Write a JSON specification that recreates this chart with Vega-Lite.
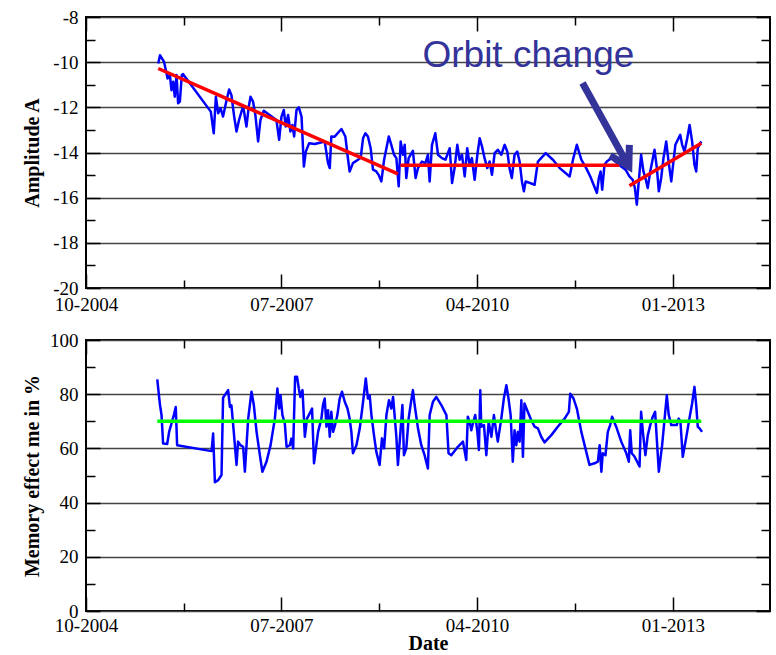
{
  "$schema": "https://vega.github.io/schema/vega-lite/v6.json",
  "background": "white",
  "padding": {"left": 21, "top": 7, "right": 4, "bottom": 0},
  "spacing": 9,
  "config": {
    "view": {"stroke": "black", "strokeWidth": 2},
    "font": "Liberation Serif",
    "axis": {
      "labelFont": "Liberation Serif", "labelFontSize": 19, "labelColor": "black",
      "titleFont": "Liberation Serif", "titleFontSize": 20, "titleFontWeight": "bold", "titleColor": "black",
      "tickColor": "black", "tickWidth": 1.5, "domain": false,
      "gridColor": "#444444", "gridWidth": 1.5
    }
  },
  "datasets": {
    "amp": [
      {"date": "2005-10-07", "amplitude": -10.06}, {"date": "2005-10-16", "amplitude": -9.69}, {"date": "2005-11-06", "amplitude": -9.99},
      {"date": "2005-11-24", "amplitude": -10.72}, {"date": "2005-12-06", "amplitude": -10.57}, {"date": "2005-12-14", "amplitude": -11.24},
      {"date": "2005-12-23", "amplitude": -10.87}, {"date": "2005-12-31", "amplitude": -11.53}, {"date": "2006-01-09", "amplitude": -10.57},
      {"date": "2006-01-17", "amplitude": -11.82}, {"date": "2006-01-26", "amplitude": -11.75}, {"date": "2006-02-05", "amplitude": -10.57},
      {"date": "2006-02-12", "amplitude": -10.53}, {"date": "2006-07-04", "amplitude": -12.19}, {"date": "2006-07-19", "amplitude": -13.15},
      {"date": "2006-07-30", "amplitude": -11.53}, {"date": "2006-08-11", "amplitude": -12.26}, {"date": "2006-08-23", "amplitude": -12.04},
      {"date": "2006-09-05", "amplitude": -12.41}, {"date": "2006-09-23", "amplitude": -11.68}, {"date": "2006-10-06", "amplitude": -11.21},
      {"date": "2006-10-18", "amplitude": -11.46}, {"date": "2006-11-01", "amplitude": -12.41}, {"date": "2006-11-13", "amplitude": -13.07},
      {"date": "2006-11-26", "amplitude": -12.56}, {"date": "2006-12-17", "amplitude": -11.94}, {"date": "2007-01-03", "amplitude": -12.85},
      {"date": "2007-01-15", "amplitude": -11.97}, {"date": "2007-01-24", "amplitude": -11.53}, {"date": "2007-02-06", "amplitude": -11.75},
      {"date": "2007-02-18", "amplitude": -12.34}, {"date": "2007-03-04", "amplitude": -13.51}, {"date": "2007-03-16", "amplitude": -12.56},
      {"date": "2007-04-02", "amplitude": -12.15}, {"date": "2007-06-06", "amplitude": -12.56}, {"date": "2007-06-20", "amplitude": -13.44},
      {"date": "2007-07-02", "amplitude": -12.41}, {"date": "2007-07-14", "amplitude": -12.12}, {"date": "2007-07-24", "amplitude": -12.85},
      {"date": "2007-08-05", "amplitude": -12.34}, {"date": "2007-08-17", "amplitude": -13.07}, {"date": "2007-08-27", "amplitude": -12.78},
      {"date": "2007-09-05", "amplitude": -13.29}, {"date": "2007-09-17", "amplitude": -12.12}, {"date": "2007-09-29", "amplitude": -12.0},
      {"date": "2007-10-13", "amplitude": -12.41}, {"date": "2007-10-25", "amplitude": -14.62}, {"date": "2007-11-04", "amplitude": -13.96},
      {"date": "2007-11-21", "amplitude": -13.59}, {"date": "2007-12-20", "amplitude": -13.62}, {"date": "2008-02-09", "amplitude": -13.51},
      {"date": "2008-02-26", "amplitude": -14.47}, {"date": "2008-03-06", "amplitude": -14.69}, {"date": "2008-03-14", "amplitude": -13.29},
      {"date": "2008-03-31", "amplitude": -13.3}, {"date": "2008-05-05", "amplitude": -12.96}, {"date": "2008-05-25", "amplitude": -13.29},
      {"date": "2008-06-05", "amplitude": -14.1}, {"date": "2008-06-16", "amplitude": -14.84}, {"date": "2008-07-03", "amplitude": -14.47},
      {"date": "2008-07-29", "amplitude": -14.32}, {"date": "2008-08-12", "amplitude": -14.22}, {"date": "2008-08-24", "amplitude": -13.37},
      {"date": "2008-09-05", "amplitude": -13.15}, {"date": "2008-09-18", "amplitude": -13.29}, {"date": "2008-10-02", "amplitude": -13.81},
      {"date": "2008-10-14", "amplitude": -14.76}, {"date": "2008-10-31", "amplitude": -14.84}, {"date": "2008-11-12", "amplitude": -14.99},
      {"date": "2008-11-26", "amplitude": -15.28}, {"date": "2008-12-10", "amplitude": -14.32}, {"date": "2008-12-22", "amplitude": -13.81},
      {"date": "2009-01-03", "amplitude": -13.29}, {"date": "2009-01-16", "amplitude": -13.66}, {"date": "2009-01-30", "amplitude": -14.1},
      {"date": "2009-02-11", "amplitude": -14.25}, {"date": "2009-02-23", "amplitude": -15.5}, {"date": "2009-03-05", "amplitude": -13.51},
      {"date": "2009-03-17", "amplitude": -14.1}, {"date": "2009-03-26", "amplitude": -13.66}, {"date": "2009-04-03", "amplitude": -15.13},
      {"date": "2009-04-15", "amplitude": -14.25}, {"date": "2009-05-07", "amplitude": -13.93}, {"date": "2009-05-21", "amplitude": -15.13},
      {"date": "2009-06-02", "amplitude": -14.69}, {"date": "2009-06-22", "amplitude": -14.4}, {"date": "2009-07-10", "amplitude": -14.47},
      {"date": "2009-07-23", "amplitude": -14.1}, {"date": "2009-08-01", "amplitude": -15.28}, {"date": "2009-08-13", "amplitude": -13.66},
      {"date": "2009-08-30", "amplitude": -13.15}, {"date": "2009-09-13", "amplitude": -14.1}, {"date": "2009-10-03", "amplitude": -14.25},
      {"date": "2009-10-21", "amplitude": -14.32}, {"date": "2009-11-12", "amplitude": -13.81}, {"date": "2009-11-24", "amplitude": -15.35},
      {"date": "2009-12-07", "amplitude": -14.69}, {"date": "2009-12-21", "amplitude": -13.66}, {"date": "2010-01-02", "amplitude": -14.32},
      {"date": "2010-01-14", "amplitude": -14.1}, {"date": "2010-01-28", "amplitude": -15.06}, {"date": "2010-02-10", "amplitude": -13.81},
      {"date": "2010-02-22", "amplitude": -14.54}, {"date": "2010-03-06", "amplitude": -14.25}, {"date": "2010-03-20", "amplitude": -15.21},
      {"date": "2010-04-03", "amplitude": -14.1}, {"date": "2010-04-15", "amplitude": -13.37}, {"date": "2010-04-27", "amplitude": -13.74},
      {"date": "2010-05-10", "amplitude": -14.25}, {"date": "2010-05-24", "amplitude": -14.69}, {"date": "2010-06-05", "amplitude": -14.4},
      {"date": "2010-06-17", "amplitude": -14.99}, {"date": "2010-07-01", "amplitude": -14.03}, {"date": "2010-07-17", "amplitude": -13.88},
      {"date": "2010-08-04", "amplitude": -14.1}, {"date": "2010-08-21", "amplitude": -13.66}, {"date": "2010-09-04", "amplitude": -13.96},
      {"date": "2010-09-15", "amplitude": -14.69}, {"date": "2010-09-27", "amplitude": -15.13}, {"date": "2010-10-11", "amplitude": -14.1},
      {"date": "2010-10-25", "amplitude": -13.96}, {"date": "2010-11-06", "amplitude": -14.4}, {"date": "2010-11-18", "amplitude": -15.28},
      {"date": "2010-11-28", "amplitude": -15.72}, {"date": "2010-12-07", "amplitude": -15.28}, {"date": "2011-01-22", "amplitude": -15.43},
      {"date": "2011-02-08", "amplitude": -14.4}, {"date": "2011-03-20", "amplitude": -14.03}, {"date": "2011-04-26", "amplitude": -14.32},
      {"date": "2011-05-31", "amplitude": -14.69}, {"date": "2011-07-21", "amplitude": -15.06}, {"date": "2011-08-07", "amplitude": -14.32},
      {"date": "2011-08-27", "amplitude": -13.66}, {"date": "2011-09-19", "amplitude": -14.32}, {"date": "2011-10-14", "amplitude": -14.69},
      {"date": "2011-11-04", "amplitude": -15.06}, {"date": "2011-11-21", "amplitude": -15.43}, {"date": "2011-12-08", "amplitude": -15.79},
      {"date": "2011-12-18", "amplitude": -15.13}, {"date": "2011-12-27", "amplitude": -14.84}, {"date": "2012-01-04", "amplitude": -15.65},
      {"date": "2012-01-16", "amplitude": -14.54}, {"date": "2012-01-28", "amplitude": -14.4}, {"date": "2012-02-20", "amplitude": -14.25},
      {"date": "2012-03-16", "amplitude": -14.43}, {"date": "2012-04-11", "amplitude": -14.62}, {"date": "2012-05-03", "amplitude": -14.76},
      {"date": "2012-05-23", "amplitude": -15.06}, {"date": "2012-06-09", "amplitude": -15.21}, {"date": "2012-06-20", "amplitude": -15.57},
      {"date": "2012-06-30", "amplitude": -16.31}, {"date": "2012-07-10", "amplitude": -15.28}, {"date": "2012-07-22", "amplitude": -14.1},
      {"date": "2012-08-03", "amplitude": -14.84}, {"date": "2012-08-13", "amplitude": -15.13}, {"date": "2012-08-25", "amplitude": -15.57},
      {"date": "2012-09-07", "amplitude": -14.84}, {"date": "2012-09-29", "amplitude": -13.88}, {"date": "2012-10-11", "amplitude": -14.69},
      {"date": "2012-10-21", "amplitude": -15.72}, {"date": "2012-11-02", "amplitude": -15.13}, {"date": "2012-11-14", "amplitude": -14.25},
      {"date": "2012-11-28", "amplitude": -13.51}, {"date": "2012-12-10", "amplitude": -14.4}, {"date": "2012-12-24", "amplitude": -15.28},
      {"date": "2013-01-04", "amplitude": -14.4}, {"date": "2013-01-14", "amplitude": -13.66}, {"date": "2013-02-08", "amplitude": -13.22},
      {"date": "2013-02-18", "amplitude": -13.66}, {"date": "2013-03-02", "amplitude": -13.96}, {"date": "2013-03-16", "amplitude": -13.37},
      {"date": "2013-03-28", "amplitude": -12.78}, {"date": "2013-04-10", "amplitude": -13.51}, {"date": "2013-04-22", "amplitude": -14.54},
      {"date": "2013-05-01", "amplitude": -14.84}, {"date": "2013-05-09", "amplitude": -13.81}, {"date": "2013-05-27", "amplitude": -13.51}
    ],
    "ampfit": [
      {"seg": "a", "date": "2005-10-07", "amplitude": -10.28}, {"seg": "a", "date": "2009-02-19", "amplitude": -14.95},
      {"seg": "b", "date": "2009-03-04", "amplitude": -14.57}, {"seg": "b", "date": "2012-04-02", "amplitude": -14.57},
      {"seg": "c", "date": "2012-05-23", "amplitude": -15.47}, {"seg": "c", "date": "2013-05-27", "amplitude": -13.59}
    ],
    "arrow": [{"start": "2011-09-25", "from": -10.92, "end": "2012-05-20", "to": -14.63}],
    "head": [{"date": "2012-05-20", "amplitude": -14.63}],
    "note": [{"date": "2009-06-25", "amplitude": -10.21, "label": "Orbit change"}],
    "mem": [
      {"date": "2005-10-02", "memory": 85.5}, {"date": "2005-10-16", "memory": 76.0}, {"date": "2005-10-24", "memory": 72.3},
      {"date": "2005-11-01", "memory": 61.8}, {"date": "2005-11-22", "memory": 61.6}, {"date": "2005-12-02", "memory": 66.1},
      {"date": "2005-12-14", "memory": 69.2}, {"date": "2005-12-26", "memory": 72.3}, {"date": "2006-01-05", "memory": 75.3},
      {"date": "2006-01-12", "memory": 61.2}, {"date": "2006-07-08", "memory": 59.0}, {"date": "2006-07-16", "memory": 65.5},
      {"date": "2006-07-25", "memory": 47.5}, {"date": "2006-08-11", "memory": 48.3}, {"date": "2006-08-28", "memory": 50.2},
      {"date": "2006-09-05", "memory": 78.7}, {"date": "2006-09-19", "memory": 80.2}, {"date": "2006-10-01", "memory": 81.5},
      {"date": "2006-10-10", "memory": 75.3}, {"date": "2006-10-18", "memory": 75.9}, {"date": "2006-10-30", "memory": 66.1},
      {"date": "2006-11-13", "memory": 53.9}, {"date": "2006-11-21", "memory": 62.5}, {"date": "2006-12-03", "memory": 61.2},
      {"date": "2006-12-17", "memory": 60.6}, {"date": "2006-12-26", "memory": 51.4}, {"date": "2007-01-12", "memory": 71.0},
      {"date": "2007-01-29", "memory": 80.9}, {"date": "2007-02-10", "memory": 76.0}, {"date": "2007-02-24", "memory": 66.1},
      {"date": "2007-03-13", "memory": 57.5}, {"date": "2007-03-26", "memory": 51.4}, {"date": "2007-04-16", "memory": 55.1},
      {"date": "2007-05-07", "memory": 61.2}, {"date": "2007-05-29", "memory": 71.0}, {"date": "2007-06-11", "memory": 82.1},
      {"date": "2007-06-20", "memory": 74.7}, {"date": "2007-06-27", "memory": 79.6}, {"date": "2007-07-07", "memory": 72.3},
      {"date": "2007-07-19", "memory": 69.2}, {"date": "2007-07-28", "memory": 60.6}, {"date": "2007-08-14", "memory": 61.2},
      {"date": "2007-08-22", "memory": 63.6}, {"date": "2007-08-31", "memory": 60.0}, {"date": "2007-09-10", "memory": 86.4},
      {"date": "2007-09-20", "memory": 86.4}, {"date": "2007-09-29", "memory": 82.1}, {"date": "2007-10-07", "memory": 79.0},
      {"date": "2007-10-18", "memory": 81.5}, {"date": "2007-10-30", "memory": 64.3}, {"date": "2007-11-10", "memory": 71.0},
      {"date": "2007-11-24", "memory": 72.9}, {"date": "2007-12-06", "memory": 74.7}, {"date": "2007-12-16", "memory": 54.5},
      {"date": "2008-01-06", "memory": 66.1}, {"date": "2008-01-23", "memory": 71.0}, {"date": "2008-01-31", "memory": 76.0},
      {"date": "2008-02-09", "memory": 78.4}, {"date": "2008-02-18", "memory": 68.0}, {"date": "2008-02-26", "memory": 74.1},
      {"date": "2008-03-06", "memory": 64.3}, {"date": "2008-03-14", "memory": 73.5}, {"date": "2008-03-23", "memory": 66.1},
      {"date": "2008-03-31", "memory": 68.0}, {"date": "2008-04-14", "memory": 72.3}, {"date": "2008-04-26", "memory": 78.4},
      {"date": "2008-05-08", "memory": 80.9}, {"date": "2008-05-22", "memory": 77.2}, {"date": "2008-06-05", "memory": 74.7},
      {"date": "2008-06-16", "memory": 71.0}, {"date": "2008-06-25", "memory": 66.1}, {"date": "2008-07-03", "memory": 58.2},
      {"date": "2008-07-21", "memory": 61.2}, {"date": "2008-08-07", "memory": 67.4}, {"date": "2008-08-24", "memory": 77.2},
      {"date": "2008-09-07", "memory": 85.8}, {"date": "2008-09-18", "memory": 78.4}, {"date": "2008-09-27", "memory": 79.6},
      {"date": "2008-10-06", "memory": 72.3}, {"date": "2008-10-19", "memory": 64.9}, {"date": "2008-10-31", "memory": 58.8},
      {"date": "2008-11-17", "memory": 53.9}, {"date": "2008-11-29", "memory": 63.7}, {"date": "2008-12-10", "memory": 60.0},
      {"date": "2008-12-22", "memory": 72.3}, {"date": "2009-01-04", "memory": 77.8}, {"date": "2009-01-16", "memory": 74.7},
      {"date": "2009-01-25", "memory": 79.0}, {"date": "2009-02-02", "memory": 72.3}, {"date": "2009-02-11", "memory": 64.3},
      {"date": "2009-02-19", "memory": 53.9}, {"date": "2009-03-04", "memory": 66.1}, {"date": "2009-03-14", "memory": 76.0},
      {"date": "2009-03-22", "memory": 57.5}, {"date": "2009-04-03", "memory": 60.0}, {"date": "2009-04-15", "memory": 71.0},
      {"date": "2009-04-25", "memory": 76.0}, {"date": "2009-05-07", "memory": 81.5}, {"date": "2009-05-16", "memory": 76.0},
      {"date": "2009-06-02", "memory": 67.4}, {"date": "2009-06-19", "memory": 61.2}, {"date": "2009-07-06", "memory": 57.5},
      {"date": "2009-07-23", "memory": 52.6}, {"date": "2009-08-01", "memory": 72.3}, {"date": "2009-08-18", "memory": 77.2},
      {"date": "2009-09-04", "memory": 79.0}, {"date": "2009-09-30", "memory": 76.0}, {"date": "2009-10-26", "memory": 72.3},
      {"date": "2009-11-06", "memory": 58.2}, {"date": "2009-11-20", "memory": 57.5}, {"date": "2009-12-24", "memory": 60.6},
      {"date": "2010-01-19", "memory": 62.5}, {"date": "2010-02-05", "memory": 55.7}, {"date": "2010-02-13", "memory": 71.7},
      {"date": "2010-02-22", "memory": 69.8}, {"date": "2010-03-03", "memory": 66.7}, {"date": "2010-03-11", "memory": 69.2},
      {"date": "2010-03-23", "memory": 72.3}, {"date": "2010-04-03", "memory": 66.1}, {"date": "2010-04-11", "memory": 59.4},
      {"date": "2010-04-18", "memory": 81.5}, {"date": "2010-04-23", "memory": 68.0}, {"date": "2010-05-07", "memory": 68.6},
      {"date": "2010-05-19", "memory": 57.5}, {"date": "2010-05-31", "memory": 69.8}, {"date": "2010-06-14", "memory": 64.3},
      {"date": "2010-06-27", "memory": 72.3}, {"date": "2010-07-09", "memory": 66.1}, {"date": "2010-07-17", "memory": 62.5},
      {"date": "2010-08-04", "memory": 71.0}, {"date": "2010-08-17", "memory": 78.4}, {"date": "2010-08-30", "memory": 83.3},
      {"date": "2010-09-10", "memory": 78.4}, {"date": "2010-09-21", "memory": 72.3}, {"date": "2010-10-02", "memory": 55.1},
      {"date": "2010-10-11", "memory": 66.7}, {"date": "2010-10-20", "memory": 61.2}, {"date": "2010-10-28", "memory": 66.1},
      {"date": "2010-11-06", "memory": 62.5}, {"date": "2010-11-15", "memory": 77.8}, {"date": "2010-11-23", "memory": 56.9},
      {"date": "2010-12-01", "memory": 76.6}, {"date": "2010-12-18", "memory": 73.5}, {"date": "2011-01-05", "memory": 70.4},
      {"date": "2011-01-22", "memory": 68.0}, {"date": "2011-02-08", "memory": 67.4}, {"date": "2011-02-25", "memory": 64.3},
      {"date": "2011-03-14", "memory": 62.2}, {"date": "2011-04-18", "memory": 64.9}, {"date": "2011-05-21", "memory": 68.0},
      {"date": "2011-06-25", "memory": 71.0}, {"date": "2011-07-17", "memory": 73.5}, {"date": "2011-07-24", "memory": 80.2},
      {"date": "2011-08-10", "memory": 78.4}, {"date": "2011-08-27", "memory": 74.7}, {"date": "2011-09-19", "memory": 66.1},
      {"date": "2011-10-14", "memory": 58.8}, {"date": "2011-10-31", "memory": 53.9}, {"date": "2011-11-26", "memory": 54.5},
      {"date": "2011-12-13", "memory": 55.1}, {"date": "2011-12-22", "memory": 61.2}, {"date": "2011-12-31", "memory": 51.4},
      {"date": "2012-01-07", "memory": 58.2}, {"date": "2012-01-21", "memory": 57.5}, {"date": "2012-02-02", "memory": 66.1},
      {"date": "2012-02-14", "memory": 68.6}, {"date": "2012-02-24", "memory": 71.7}, {"date": "2012-03-16", "memory": 68.0},
      {"date": "2012-04-11", "memory": 62.5}, {"date": "2012-05-07", "memory": 58.2}, {"date": "2012-05-20", "memory": 55.1},
      {"date": "2012-05-27", "memory": 66.7}, {"date": "2012-06-04", "memory": 58.2}, {"date": "2012-06-18", "memory": 57.0},
      {"date": "2012-07-14", "memory": 53.3}, {"date": "2012-07-22", "memory": 73.5}, {"date": "2012-07-31", "memory": 66.1},
      {"date": "2012-08-13", "memory": 57.5}, {"date": "2012-08-25", "memory": 64.7}, {"date": "2012-09-07", "memory": 68.6},
      {"date": "2012-09-20", "memory": 71.7}, {"date": "2012-10-02", "memory": 73.5}, {"date": "2012-10-21", "memory": 51.4},
      {"date": "2012-11-07", "memory": 61.2}, {"date": "2012-11-19", "memory": 70.4}, {"date": "2012-12-01", "memory": 79.6},
      {"date": "2012-12-11", "memory": 72.3}, {"date": "2012-12-24", "memory": 68.6}, {"date": "2013-01-09", "memory": 68.6},
      {"date": "2013-01-21", "memory": 68.6}, {"date": "2013-01-31", "memory": 71.0}, {"date": "2013-02-09", "memory": 69.8},
      {"date": "2013-02-21", "memory": 56.9}, {"date": "2013-03-10", "memory": 63.7}, {"date": "2013-03-27", "memory": 71.0},
      {"date": "2013-04-10", "memory": 76.6}, {"date": "2013-04-22", "memory": 82.7}, {"date": "2013-05-01", "memory": 76.0},
      {"date": "2013-05-09", "memory": 68.0}, {"date": "2013-05-18", "memory": 67.4}, {"date": "2013-05-31", "memory": 66.1}
    ],
    "memfit": [{"date": "2005-10-02", "memory": 70}, {"date": "2013-05-27", "memory": 70}]
  },
  "vconcat": [
    {
      "width": 684,
      "height": 271,
      "resolve": {"axis": {"x": "independent", "y": "independent"}},
      "layer": [
        {
          "data": {"name": "amp"},
          "mark": {"type": "line", "color": "#0000ff", "strokeWidth": 2.5, "strokeJoin": "round"},
          "encoding": {
            "x": {
              "field": "date", "type": "temporal",
              "scale": {"type": "utc", "domain": [{"year": 2004, "month": 10, "date": 1, "utc": true}, {"year": 2014, "month": 5, "date": 15, "utc": true}]},
              "axis": {
                "orient": "bottom", "title": null, "grid": false,
                "values": [{"year": 2004, "month": 10, "date": 1, "utc": true}, {"year": 2006, "month": 2, "date": 15, "utc": true}, {"year": 2007, "month": 7, "date": 1, "utc": true}, {"year": 2008, "month": 11, "date": 15, "utc": true}, {"year": 2010, "month": 4, "date": 1, "utc": true}, {"year": 2011, "month": 8, "date": 15, "utc": true}, {"year": 2013, "month": 1, "date": 1, "utc": true}],
                "tickSize": {"condition": {"test": "utcdate(datum.value) == 1", "value": -14}, "value": -8},
                "labelExpr": "utcdate(datum.value) == 1 ? utcFormat(datum.value, '%m-%Y') : ''",
                "labelFont": "Liberation Serif", "labelFontSize": 19,
                "labelPadding": 21, "labelFlush": false, "labelOverlap": false
              }
            },
            "y": {
              "field": "amplitude", "type": "quantitative",
              "scale": {"domain": [-20, -8], "nice": false, "zero": false},
              "axis": {
                "orient": "left", "title": "Amplitude A", "titlePadding": 10,
                "titleFont": "Liberation Serif", "titleFontSize": 20, "titleFontWeight": "bold",
                "values": [-20, -19, -18, -17, -16, -15, -14, -13, -12, -11, -10, -9, -8],
                "tickSize": {"condition": {"test": "datum.value % 2 == 0", "value": -14}, "value": -9},
                "labelExpr": "datum.value % 2 == 0 ? toString(datum.value) : ''",
                "labelFont": "Liberation Serif", "labelFontSize": 19,
                "labelPadding": 22, "grid": true,
                "gridOpacity": {"condition": {"test": "datum.value % 2 == 0", "value": 1}, "value": 0}
              }
            }
          }
        },
        {
          "data": {"name": "ampfit"},
          "mark": {"type": "line", "color": "#ff0000", "strokeWidth": 3.5},
          "encoding": {
            "x": {
              "field": "date", "type": "temporal",
              "axis": {
                "orient": "top", "title": null, "labels": false, "grid": false,
                "values": [{"year": 2004, "month": 10, "date": 1, "utc": true}, {"year": 2006, "month": 2, "date": 15, "utc": true}, {"year": 2007, "month": 7, "date": 1, "utc": true}, {"year": 2008, "month": 11, "date": 15, "utc": true}, {"year": 2010, "month": 4, "date": 1, "utc": true}, {"year": 2011, "month": 8, "date": 15, "utc": true}, {"year": 2013, "month": 1, "date": 1, "utc": true}],
                "tickSize": {"condition": {"test": "utcdate(datum.value) == 1", "value": -14}, "value": -8}
              }
            },
            "y": {
              "field": "amplitude", "type": "quantitative",
              "axis": {
                "orient": "right", "title": null, "labels": false, "grid": false,
                "values": [-20, -19, -18, -17, -16, -15, -14, -13, -12, -11, -10, -9, -8],
                "tickSize": {"condition": {"test": "datum.value % 2 == 0", "value": -14}, "value": -9}
              }
            },
            "detail": {"field": "seg", "type": "nominal"}
          }
        },
        {
          "data": {"name": "arrow"},
          "mark": {"type": "rule", "color": "#333399", "strokeWidth": 7},
          "encoding": {
            "x": {"field": "start", "type": "temporal", "axis": null},
            "x2": {"field": "end"},
            "y": {"field": "from", "type": "quantitative", "axis": null},
            "y2": {"field": "to"}
          }
        },
        {
          "data": {"name": "head"},
          "mark": {"type": "point", "shape": "M -0.58 -1 L 0 0 L 0.58 -1", "size": 1420, "angle": 331.3, "filled": false, "fill": null, "stroke": "#333399", "strokeWidth": 7, "strokeJoin": "miter", "opacity": 1},
          "encoding": {
            "x": {"field": "date", "type": "temporal", "axis": null},
            "y": {"field": "amplitude", "type": "quantitative", "axis": null}
          }
        },
        {
          "data": {"name": "note"},
          "mark": {"type": "text", "font": "Liberation Sans", "fontSize": 37, "color": "#333399", "align": "left", "baseline": "alphabetic"},
          "encoding": {
            "x": {"field": "date", "type": "temporal", "axis": null},
            "y": {"field": "amplitude", "type": "quantitative", "axis": null},
            "text": {"field": "label"}
          }
        }
      ]
    },
    {
      "width": 684,
      "height": 271,
      "resolve": {"axis": {"x": "independent", "y": "independent"}},
      "layer": [
        {
          "data": {"name": "mem"},
          "mark": {"type": "line", "color": "#0000ff", "strokeWidth": 2.5, "strokeJoin": "round"},
          "encoding": {
            "x": {
              "field": "date", "type": "temporal",
              "scale": {"type": "utc", "domain": [{"year": 2004, "month": 10, "date": 1, "utc": true}, {"year": 2014, "month": 5, "date": 15, "utc": true}]},
              "axis": {
                "orient": "bottom", "title": "Date", "titlePadding": -8,
                "titleFont": "Liberation Serif", "titleFontSize": 20, "titleFontWeight": "bold",
                "grid": false,
                "values": [{"year": 2004, "month": 10, "date": 1, "utc": true}, {"year": 2006, "month": 2, "date": 15, "utc": true}, {"year": 2007, "month": 7, "date": 1, "utc": true}, {"year": 2008, "month": 11, "date": 15, "utc": true}, {"year": 2010, "month": 4, "date": 1, "utc": true}, {"year": 2011, "month": 8, "date": 15, "utc": true}, {"year": 2013, "month": 1, "date": 1, "utc": true}],
                "tickSize": {"condition": {"test": "utcdate(datum.value) == 1", "value": -14}, "value": -8},
                "labelExpr": "utcdate(datum.value) == 1 ? utcFormat(datum.value, '%m-%Y') : ''",
                "labelFont": "Liberation Serif", "labelFontSize": 19,
                "labelPadding": 19, "labelFlush": false, "labelOverlap": false
              }
            },
            "y": {
              "field": "memory", "type": "quantitative",
              "scale": {"domain": [0, 100], "nice": false},
              "axis": {
                "orient": "left", "title": "Memory effect me in %", "titlePadding": 7,
                "titleFont": "Liberation Serif", "titleFontSize": 20, "titleFontWeight": "bold",
                "values": [0, 10, 20, 30, 40, 50, 60, 70, 80, 90, 100],
                "tickSize": {"condition": {"test": "datum.value % 20 == 0", "value": -14}, "value": -9},
                "labelExpr": "datum.value % 20 == 0 ? toString(datum.value) : ''",
                "labelFont": "Liberation Serif", "labelFontSize": 19,
                "labelPadding": 22, "grid": true,
                "gridOpacity": {"condition": {"test": "datum.value % 20 == 0", "value": 1}, "value": 0}
              }
            }
          }
        },
        {
          "data": {"name": "memfit"},
          "mark": {"type": "line", "color": "#00ff00", "strokeWidth": 3.5},
          "encoding": {
            "x": {
              "field": "date", "type": "temporal",
              "axis": {
                "orient": "top", "title": null, "labels": false, "grid": false,
                "values": [{"year": 2004, "month": 10, "date": 1, "utc": true}, {"year": 2006, "month": 2, "date": 15, "utc": true}, {"year": 2007, "month": 7, "date": 1, "utc": true}, {"year": 2008, "month": 11, "date": 15, "utc": true}, {"year": 2010, "month": 4, "date": 1, "utc": true}, {"year": 2011, "month": 8, "date": 15, "utc": true}, {"year": 2013, "month": 1, "date": 1, "utc": true}],
                "tickSize": {"condition": {"test": "utcdate(datum.value) == 1", "value": -14}, "value": -8}
              }
            },
            "y": {
              "field": "memory", "type": "quantitative",
              "axis": {
                "orient": "right", "title": null, "labels": false, "grid": false,
                "values": [0, 10, 20, 30, 40, 50, 60, 70, 80, 90, 100],
                "tickSize": {"condition": {"test": "datum.value % 20 == 0", "value": -14}, "value": -9}
              }
            }
          }
        }
      ]
    }
  ]
}
